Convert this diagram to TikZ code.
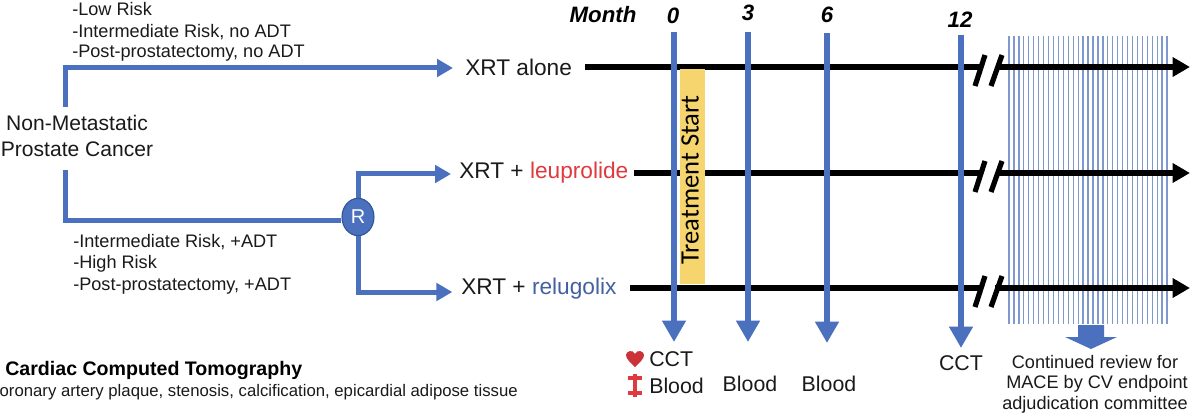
\documentclass[tikz,border=0pt]{standalone}
\usepackage{fontspec}
\setmainfont{Liberation Sans}
\newfontfamily\calib{Carlito}
\usetikzlibrary{arrows.meta,shapes.geometric,calc}
\definecolor{flowblue}{HTML}{4A70BE}
\definecolor{rimblue}{HTML}{2F5597}
\definecolor{hatchblue}{HTML}{7F99CC}
\definecolor{startyellow}{HTML}{F6D46E}
\definecolor{leured}{HTML}{E0393E}
\definecolor{relblue}{HTML}{44619F}
\definecolor{txt}{HTML}{1A1A1A}
\tikzset{
  flow/.style={draw=flowblue,line width=3.75pt,-{Triangle[length=12pt,width=13pt]}},
  flowplain/.style={draw=flowblue,line width=3.75pt},
  timeline/.style={draw=flowblue,line width=5.2pt,-{Triangle[length=16pt,width=17pt]}},
  axis/.style={draw=black,line width=3.9pt},
  axisarrow/.style={axis,-{Triangle[length=13pt,width=14pt]}},
  slash/.style={draw=black,line width=3.9pt},
  hatch/.style={draw=hatchblue,line width=1pt},
  lab/.style={inner sep=0pt,text=txt,font=\fontsize{13.6}{16}\selectfont,anchor=west},
  mid/.style={inner sep=0pt,text=txt,font=\fontsize{15.8}{18}\selectfont},
  arm/.style={inner sep=0pt,text=txt,font=\fontsize{17}{20}\selectfont,anchor=west},
  time/.style={inner sep=0pt,text=black,font=\fontsize{16.7}{18}\selectfont\bfseries\itshape},
  visit/.style={inner sep=0pt,text=txt,font=\fontsize{16}{18}\selectfont},
  note/.style={inner sep=0pt,text=txt,font=\fontsize{13.6}{15}\selectfont},
}
\begin{document}
\begin{tikzpicture}[x=0.75pt,y=-0.75pt]
\useasboundingbox (0,0) rectangle (1200,417);
\fill[white] (0,0) rectangle (1200,417);

% hatching
\foreach \i in {0,...,32}{
  \draw[hatch] ({1009+\i*4.94},36) -- ({1009+\i*4.94},324);
}

% left labels
\node[lab] (l1) at (72,9) {-Low Risk};
\node[lab] (l2) at (72,32) {-Intermediate Risk, no ADT};
\node[lab] (l3) at (72,53) {-Post-prostatectomy, no ADT};
\node[lab] (l4) at (73,242) {-Intermediate Risk, +ADT};
\node[lab] (l5) at (73,264) {-High Risk};
\node[lab] (l6) at (73,286) {-Post-prostatectomy, +ADT};
\node[mid] (nm1) at (77,123) {Non-Metastatic};
\node[mid] (nm2) at (77,149) {Prostate Cancer};

% arms
\node[arm] (xa) at (465,67) {XRT alone};
\node[arm] (xl) at (459,173) {XRT + \textcolor{leured}{leuprolide}};
\node[arm] (xr) at (461,289) {XRT + \textcolor{relblue}{relugolix}};
\node[ellipse,draw=rimblue,line width=0.8pt,fill=flowblue,minimum width=24pt,minimum height=28pt,inner sep=0pt,text=white,font=\fontsize{15}{17}\selectfont] (r) at (358,217) {R};

% flow connectors
\coordinate (ca) at (65,107);
\coordinate (cb) at (65,68);
\coordinate (cc) at (65,170);
\coordinate (cd) at (65,221);
\coordinate (ce) at (358,174);
\coordinate (cf) at (358,292);
\draw[flow,shorten >=9pt] (ca) -- (cb) -- (cb -| xa.west);
\draw[flowplain] (cc) -- (cd) -- (cd -| r.west);
\draw[flow,shorten >=6pt] (r.north) -- (ce) -- (ce -| xl.west);
\draw[flow,shorten >=6.5pt] (r.south) -- (cf) -- (cf -| xr.west);

% black axes
\coordinate (a1) at (585,67); \coordinate (a1b) at (980,67); \coordinate (a1c) at (997,67); \coordinate (a1d) at (1190,67);
\coordinate (a2) at (634,173); \coordinate (a2b) at (980,173); \coordinate (a2c) at (997,173); \coordinate (a2d) at (1190,173);
\coordinate (a3) at (630,288); \coordinate (a3b) at (980,288); \coordinate (a3c) at (995,288); \coordinate (a3d) at (1190,288);
\draw[axis] (a1) -- (a1b);
\draw[axis] (a2) -- (a2b);
\draw[axis] (a3) -- (a3b);
\draw[axisarrow] (a1c) -- (a1d);
\draw[axisarrow] (a2c) -- (a2d);
\draw[axisarrow] (a3c) -- (a3d);
\foreach \y in {67,173,288}{
  \draw[slash] (985,\y-12) -- (975,\y+19);
  \draw[slash] (1002,\y-12) -- (991,\y+19);
}

% treatment start band
\node[fill=startyellow,minimum width=18.75pt,minimum height=161pt,inner sep=0pt] (band) at (692.5,176.5) {};
\node[rotate=90,inner sep=0pt,text=black,font=\calib\fontsize{19.9}{22}\selectfont] (ts) at (690,180) {Treatment Start};

% time labels
\node[time] (month) at (603,15) {Month};
\node[time] (m0) at (673,16) {0};
\node[time] (m3) at (748,13) {3};
\node[time] (m6) at (827,15) {6};
\node[time] (m12) at (960,20) {12};

% blue time arrows
\coordinate (t0) at (674,32);   \coordinate (b0) at (674,342);
\coordinate (t3) at (748,32);   \coordinate (b3) at (748,342);
\coordinate (t6) at (827,33);   \coordinate (b6) at (827,343);
\coordinate (t12) at (961,35);  \coordinate (b12) at (961,348);
\draw[timeline] (t0) -- (b0);
\draw[timeline] (t3) -- (b3);
\draw[timeline] (t6) -- (b6);
\draw[timeline] (t12) -- (b12);

% block arrow
\fill[flowblue] (1078,325) -- (1104,325) -- (1104,337) -- (1117,337) -- (1091,349) -- (1065,337) -- (1078,337) -- cycle;

% visit labels
\fill[leured!90!black] (635,367) .. controls (630,362) and (626,359) .. (626,355) .. controls (626,351) and (633,349) .. (635,354) .. controls (637,349) and (644,351) .. (644,355) .. controls (644,359) and (640,362) .. (635,367) -- cycle;
\draw[leured,line width=2.3pt] (635,374) -- (635,397);
\draw[leured,line width=2.3pt] (628,378) -- (642,378);
\draw[leured,line width=2.3pt] (628,393) -- (642,393);
\node[visit,anchor=west] (v1) at (649,359) {CCT};
\node[visit,anchor=west] (v2) at (649,386) {Blood};
\node[visit] (v3) at (750,384) {Blood};
\node[visit] (v4) at (829,384) {Blood};
\node[visit] (v5) at (961,363) {CCT};
\node[note] (n1) at (1095,362) {Continued review for};
\node[note] (n2) at (1097,384) {MACE by CV endpoint};
\node[note] (n3) at (1095,405) {adjudication committee};

% legend
\node[inner sep=0pt,anchor=west,text=black,font=\fontsize{14.7}{16}\selectfont\bfseries] (cc1) at (5,370) {Cardiac Computed Tomography};
\node[inner sep=0pt,anchor=east,text=txt,font=\fontsize{12.55}{14}\selectfont] (cc2) at (518,392) {oronary artery plaque, stenosis, calcification, epicardial adipose tissue};
\end{tikzpicture}
\end{document}
